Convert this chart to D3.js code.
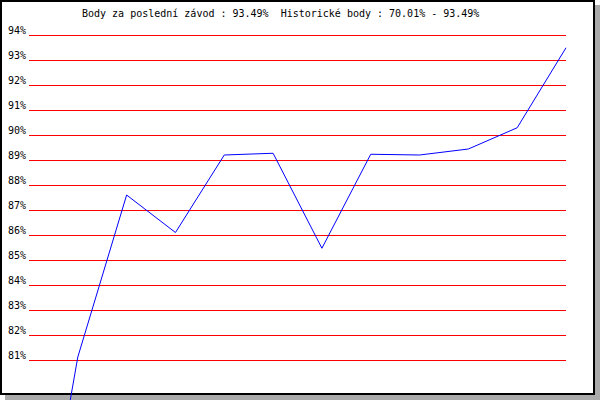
<!DOCTYPE html>
<html>
<head>
<meta charset="utf-8">
<script src="https://cdn.jsdelivr.net/npm/d3@7"></script>
<style>
  html, body { margin: 0; padding: 0; background: #fff; }
  svg { display: block; }
  text { font-family: "DejaVu Sans Mono", monospace; font-size: 10px; fill: #000; }
</style>
</head>
<body>
<svg id="chart" width="600" height="400"></svg>
<script>
// ---- data ----
const titleText = "Body za poslední závod : 93.49%  Historické body : 70.01% - 93.49%";
const raceIndex = [0, 1, 2, 3, 4, 5, 6, 7, 8, 9, 10, 11];
const points = [70.01, 81.12, 87.6, 86.1, 89.2, 89.27, 85.47, 89.23, 89.2, 89.44, 90.29, 93.49];
const yTicks = [94, 93, 92, 91, 90, 89, 88, 87, 86, 85, 84, 83, 82, 81];
const tickLabels = yTicks.map(v => v + "%");

// ---- drawing ----
const svg = d3.select("#chart");

// shadow and frame
svg.append("rect").attr("x", 5).attr("y", 5).attr("width", 595).attr("height", 395).attr("fill", "#aaaaaa");
svg.append("rect").attr("x", 1).attr("y", 1).attr("width", 593).attr("height", 393)
  .attr("fill", "#ffffff").attr("stroke", "#000").attr("stroke-width", 2);

const x = d3.scaleLinear().domain([0, raceIndex.length - 1]).range([29, 566]);
const y = d3.scaleLinear().domain([80, 94]).range([385, 35]);

// title
svg.append("text").attr("x", 82).attr("y", 17).text(titleText)
  .style("white-space", "pre").attr("xml:space", "preserve");

// gridlines
svg.append("g").selectAll("line").data(yTicks).join("line")
  .attr("x1", 29).attr("x2", 566)
  .attr("y1", d => Math.round(y(d)) + 0.5).attr("y2", d => Math.round(y(d)) + 0.5)
  .attr("stroke", "#ff0000").attr("stroke-width", 1)
  .attr("shape-rendering", "crispEdges");

// tick labels
svg.append("g").selectAll("text").data(yTicks).join("text")
  .attr("x", 8).attr("y", d => Math.round(y(d)) - 1)
  .text((d, i) => tickLabels[i]);

// series line
const line = d3.line().x((d, i) => x(raceIndex[i])).y(d => y(d));
svg.append("path").datum(points)
  .attr("d", line)
  .attr("fill", "none").attr("stroke", "#0000ff").attr("stroke-width", 1);
</script>
</body>
</html>
